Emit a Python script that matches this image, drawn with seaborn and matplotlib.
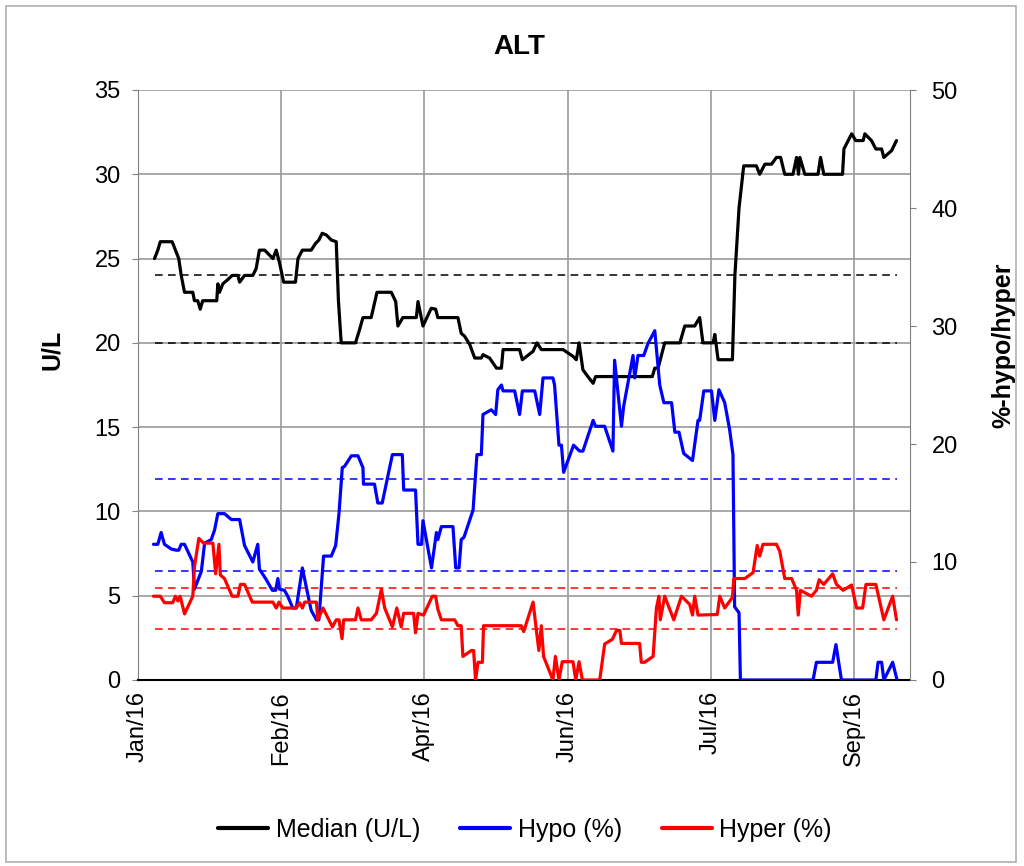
import numpy as np
import pandas as pd
import matplotlib
matplotlib.use('Agg')
import matplotlib.pyplot as plt
import matplotlib.dates as mdates
import seaborn as sns
from matplotlib.lines import Line2D
from matplotlib.patches import Rectangle

start = pd.Timestamp('2016-01-01')

# median ALT (U/L), left axis; x = days after 1 Jan 2016
median_day = [6.0, 7.2, 8.1, 12.4, 13.6, 14.8, 15.7, 16.9, 19.9, 20.5, 21.7, 22.6, 23.5, 28.6, 29.0,
              29.6, 30.8, 32.6, 34.2, 36.3, 36.9, 38.7, 41.7, 42.9, 44.1, 46.0, 49.0, 50.2, 51.4, 52.9,
              57.2, 58.1, 59.7, 62.9, 64.5, 65.7, 66.9, 68.4, 70.2, 72.0, 72.8, 73.8, 79.0, 80.5, 81.7,
              84.7, 86.8, 92.0, 93.6, 94.4, 96.2, 101.1, 101.7, 103.5, 106.5, 108.1, 108.9, 116.2,
              117.4, 118.6, 120.5, 122.3, 124.7, 125.3, 127.7, 130.2, 132.0, 132.6, 138.6, 139.6,
              143.5, 144.9, 146.5, 154.4, 158.0, 159.2, 160.2, 161.6, 163.4, 165.3, 166.2, 186.8,
              187.7, 188.9, 191.3, 196.8, 198.6, 202.2, 204.0, 205.2, 208.9, 209.5, 210.7, 215.9,
              216.8, 218.3, 220.0, 224.6, 225.8, 227.7, 230.1, 231.9, 233.4, 234.9, 237.9, 239.2,
              239.9, 240.4, 242.2, 247.0, 247.9, 249.1, 255.9, 256.4, 259.2, 260.7, 263.4, 264.0,
              266.4, 268.0, 270.1, 270.9, 273.7, 275.5]
median_val = [25.0, 25.5, 26.0, 26.0, 25.5, 25.0, 24.0, 23.0, 23.0, 22.5, 22.5, 22.0, 22.5, 22.5, 23.5,
              23.0, 23.5, 23.75, 24.0, 24.0, 23.6, 24.0, 24.0, 24.4, 25.5, 25.5, 25.0, 25.5, 24.75, 23.6,
              23.6, 25.0, 25.5, 25.5, 25.9, 26.1, 26.5, 26.4, 26.1, 26.0, 22.5, 20.0, 20.0, 20.8, 21.5,
              21.5, 23.0, 23.0, 22.45, 21.0, 21.5, 21.5, 22.45, 21.0, 22.05, 22.0, 21.5, 21.5,
              20.56, 20.4, 19.9, 19.1, 19.1, 19.3, 19.1, 18.5, 18.5, 19.6, 19.6, 19.0,
              19.5, 20.0, 19.6, 19.6, 19.2, 19.0, 20.0, 18.4, 18.0, 17.6, 18.0, 18.0,
              18.5, 18.5, 20.0, 20.0, 21.0, 21.0, 21.5, 20.0, 20.0, 20.5, 19.0, 19.0,
              24.0, 28.0, 30.5, 30.5, 30.0, 30.6, 30.6, 31.0, 31.0, 30.0, 30.0, 31.0,
              30.0, 31.0, 30.0, 30.0, 31.0, 30.0, 30.0, 31.5, 32.4, 32.0, 32.0, 32.4,
              32.0, 31.5, 31.5, 31.0, 31.4, 32.0]

# hypo (%), right axis
hypo_day = [5.6, 7.2, 8.4, 9.6, 12.1, 13.9, 14.8, 15.7, 16.9, 18.7, 19.9, 20.5, 23.0, 24.2, 26.6, 27.8,
            29.0, 31.4, 33.9, 36.9, 38.7, 41.7, 43.5, 44.1, 46.6, 48.8, 50.0, 50.8, 51.4, 53.2, 54.4,
            56.2, 57.5, 59.7, 61.1, 62.9, 64.8, 65.7, 67.4, 70.2, 71.8, 73.0, 74.2, 75.0, 77.5, 79.9,
            81.7, 81.9, 85.9, 87.1, 88.7, 92.4, 96.0, 96.5, 100.8, 101.7, 103.0, 103.5, 106.6, 108.4,
            108.9, 110.2, 114.4, 115.4, 116.6, 117.4, 118.4, 121.7, 123.1, 124.7, 125.3, 128.3, 129.9,
            130.7, 132.0, 132.6, 136.8, 138.6, 139.6, 144.1, 145.9, 147.1, 150.7, 151.3, 152.9, 153.8,
            154.6, 158.2, 160.4, 161.6, 165.3, 166.2, 169.5, 172.5, 173.1, 175.6, 176.4, 179.8, 180.4,
            181.6, 183.7, 185.2, 187.7, 189.5, 191.0, 193.8, 195.0, 196.5, 198.2, 201.4, 203.4, 204.0,
            205.5, 208.3, 209.5, 211.0, 213.1, 214.9, 216.1, 216.7, 218.3, 218.8, 245.2, 246.4, 252.3,
            253.5, 255.5, 268.0, 268.8, 270.1, 270.9, 274.1, 275.7]
hypo_val = [11.5, 11.5, 12.5, 11.5, 11.1, 11.0, 11.0, 11.5, 11.5, 10.6, 10.0, 7.7, 9.2, 11.6, 11.9, 12.7,
            14.1, 14.1, 13.6, 13.6, 11.4, 10.0, 11.5, 9.4, 8.5, 7.6, 7.6, 8.6, 7.7, 7.6, 7.1,
            6.1, 6.1, 9.5, 7.9, 5.9, 5.1, 5.1, 10.5, 10.5, 11.4, 14.1, 18.0, 18.1, 19.0, 19.0,
            18.0, 16.6, 16.6, 15.0, 15.0, 19.1, 19.1, 16.1, 16.1, 11.5, 11.5, 13.5, 9.5, 12.5,
            11.9, 13.0, 13.0, 9.5, 9.5, 11.9, 12.1, 14.4, 19.1, 19.1, 22.5, 22.9, 22.5,
            24.6, 25.0, 24.5, 24.5, 22.5, 24.5, 24.5, 22.5, 25.6, 25.6, 25.0, 19.9, 19.9,
            17.6, 19.9, 19.4, 19.4, 22.0, 21.5, 21.5, 19.4, 27.1, 21.5, 23.2, 27.5, 25.6,
            27.5, 27.5, 28.5, 29.6, 25.0, 23.5, 23.5, 21.0, 21.0, 19.2, 18.6, 22.0, 22.0,
            24.5, 24.5, 22.0, 24.6, 23.5, 21.2, 19.1, 6.2, 5.7, 0.0, 0.0, 1.5, 1.5,
            3.0, 0.0, 0.0, 1.5, 1.5, 0.0, 1.5, 0.0]

# hyper (%), right axis
hyper_day = [5.6, 8.1, 9.6, 12.6, 13.6, 14.5, 15.3, 16.9, 19.9, 20.5, 22.1, 23.8, 27.2, 28.2, 29.4, 29.9,
             31.4, 34.2, 36.3, 37.2, 38.7, 41.5, 49.0, 50.2, 51.2, 52.6, 57.5, 58.7, 59.7, 60.5, 64.8,
             65.3, 67.2, 70.6, 72.0, 73.0, 74.1, 74.7, 79.0, 79.9, 81.1, 84.7, 86.6, 88.4, 89.6, 92.4,
             94.0, 95.6, 96.5, 100.1, 100.8, 101.7, 103.7, 106.9, 108.1, 108.9, 110.2, 115.0, 116.2,
             117.4, 118.0, 121.1, 121.9, 122.6, 123.5, 125.1, 125.5, 139.2, 140.1, 143.5, 144.7, 145.6,
             146.5, 147.3, 150.7, 151.6, 152.9, 154.1, 158.0, 159.0, 160.2, 161.4, 167.7, 169.5, 172.3,
             173.8, 175.0, 175.6, 182.2, 182.8, 184.0, 187.1, 188.3, 189.2, 189.7, 191.3, 194.6, 197.4,
             200.4, 201.4, 202.2, 203.4, 210.4, 211.3, 213.1, 215.9, 216.4, 220.4, 223.4, 224.9, 225.8,
             227.0, 231.9, 233.1, 234.9, 237.4, 239.2, 239.8, 240.6, 244.6, 246.4, 247.4, 249.1, 252.3,
             253.7, 256.1, 259.2, 261.0, 263.2, 264.4, 268.0, 270.9, 274.1, 275.5]
hyper_val = [7.1, 7.1, 6.55, 6.55, 7.1, 6.7, 7.1, 5.6, 7.1, 9.6, 12.0, 11.6, 11.6, 9.0, 11.5, 8.9,
             8.6, 7.1, 7.1, 8.1, 8.1, 6.6, 6.6, 6.1, 6.6, 6.1, 6.1, 6.55, 6.1, 6.6, 6.6,
             5.1, 6.1, 4.5, 5.1, 5.1, 3.5, 5.1, 5.1, 6.1, 5.1, 5.1, 5.65, 7.7, 6.1, 4.5,
             6.1, 4.5, 5.65, 5.65, 4.0, 5.65, 5.5, 7.1, 7.1, 6.0, 5.1, 5.1, 4.6,
             4.6, 2.0, 2.5, 2.5, 0.0, 1.5, 1.5, 4.6, 4.6, 4.1, 6.6, 4.2, 2.5,
             4.6, 2.0, 0.0, 2.0, 0.0, 1.55, 1.55, 0.0, 1.55, 0.0, 0.0, 3.05, 3.45,
             4.2, 4.2, 3.1, 3.1, 1.5, 1.5, 2.0, 6.1, 7.1, 5.1, 7.1, 5.1, 7.1,
             6.4, 5.5, 7.1, 5.5, 5.55, 7.1, 6.1, 7.0, 8.6, 8.6, 9.1, 11.4, 10.5,
             11.5, 11.5, 10.9, 8.6, 8.6, 7.6, 5.5, 7.6, 7.1, 7.6, 8.5, 8.1, 9.0,
             8.1, 7.6, 8.05, 6.1, 6.1, 8.1, 8.1, 5.1, 7.1, 5.1]

# reference (dashed) levels
ref_median = [24.0, 20.0]
ref_hypo = [17.0, 9.2]
ref_hyper = [7.8, 4.3]
ref_span = [6.0, 275.5]

tick_labels_every = 52  # days between date ticks


def to_dates(days):
    return start + pd.to_timedelta(np.asarray(days), unit='D')


df_med = pd.DataFrame({'Date': to_dates(median_day), 'Value': median_val})
df_hypo = pd.DataFrame({'Date': to_dates(hypo_day), 'Value': hypo_val})
df_hyper = pd.DataFrame({'Date': to_dates(hyper_day), 'Value': hyper_val})

sns.set_style('white')
plt.rcParams['font.family'] = ['Liberation Sans', 'DejaVu Sans']
plt.rcParams['text.color'] = 'black'
plt.rcParams['xtick.labelcolor'] = 'black'
plt.rcParams['ytick.labelcolor'] = 'black'

fig = plt.figure(figsize=(10.24, 8.66), dpi=100)
ax = fig.add_axes([138 / 1024, 1 - 680 / 866, (910 - 138) / 1024, (680 - 90) / 866])
ax2 = ax.twinx()

fig.patches.append(Rectangle((6 / 1024, 4 / 866), 1010 / 1024, 856 / 866, transform=fig.transFigure,
                             fill=False, edgecolor='#b0b0b0', lw=1.2))

lw = 2.3
dash = (0, (5, 3.5))
x0, x1 = to_dates(ref_span)
ax.hlines(ref_median, x0, x1, colors='black', linestyles=dash, lw=1.1)
ax2.hlines(ref_hypo, x0, x1, colors='#0000ff', linestyles=dash, lw=1.1)
ax2.hlines(ref_hyper, x0, x1, colors='#ff0000', linestyles=dash, lw=1.1)

sns.lineplot(data=df_med, x='Date', y='Value', ax=ax, color='black', lw=lw,
             estimator=None, sort=False, legend=False)
sns.lineplot(data=df_hypo, x='Date', y='Value', ax=ax2, color='#0000ff', lw=lw,
             estimator=None, sort=False, legend=False)
sns.lineplot(data=df_hyper, x='Date', y='Value', ax=ax2, color='#ff0000', lw=lw,
             estimator=None, sort=False, legend=False)

ax.set_xlim(start, start + pd.Timedelta(days=280.4))
ax.set_ylim(0, 35)
ax2.set_ylim(0, 50)
ax.set_yticks(np.arange(0, 36, 5))
ax2.set_yticks(np.arange(0, 51, 10))
ax.set_xticks(pd.date_range(start, periods=6, freq=f'{tick_labels_every}D'))
ax.xaxis.set_major_formatter(mdates.DateFormatter('%b/%y'))

ax.grid(True, color='#9a9a9a', lw=1.2)
ax.set_axisbelow(True)
ax.set_xlabel('')
ax.set_ylabel('')
ax2.set_ylabel('')

for a in (ax, ax2):
    for s in a.spines.values():
        s.set_visible(False)
ax.spines['left'].set_visible(True)
ax.spines['left'].set_color('#808080')
ax.spines['bottom'].set_visible(True)
ax.spines['bottom'].set_color('black')
ax.spines['bottom'].set_linewidth(1.5)
ax2.spines['right'].set_visible(True)
ax2.spines['right'].set_color('#808080')

ax.tick_params(axis='y', direction='out', length=4.5, color='#808080', pad=8, labelsize=17)
ax.tick_params(axis='x', direction='out', length=5, color='black', pad=3, labelsize=17,
               labelrotation=90)
ax2.tick_params(axis='y', direction='out', length=4.5, color='#808080', pad=11, labelsize=17)

fig.text(519 / 1024, 1 - 47 / 866, 'ALT', ha='center', va='center', fontsize=20, fontweight='bold')
fig.text(52 / 1024, 1 - 350 / 866, 'U/L', ha='center', va='center', rotation=90,
         fontsize=18, fontweight='bold')
fig.text(1003 / 1024, 1 - 345 / 866, '%-hypo/hyper', ha='center', va='center', rotation=90,
         fontsize=18, fontweight='bold')

handles = [Line2D([], [], color='black', lw=3),
           Line2D([], [], color='#0000ff', lw=3),
           Line2D([], [], color='#ff0000', lw=3)]
fig.legend(handles, ['Median (U/L)', 'Hypo (%)', 'Hyper (%)'], loc='center',
           bbox_to_anchor=(525 / 1024, 1 - 830 / 866), ncol=3, frameon=False, fontsize=18,
           handlelength=2.0, handletextpad=0.3, columnspacing=1.6)

fig.savefig('out.png', dpi=100)
